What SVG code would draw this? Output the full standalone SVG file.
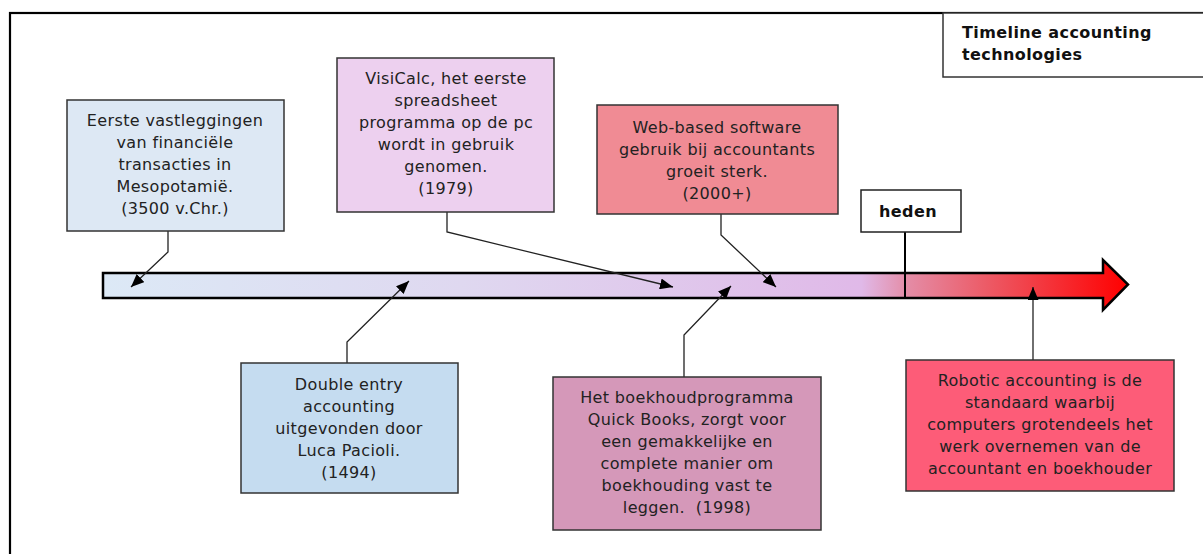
<svg xmlns="http://www.w3.org/2000/svg" width="1203" height="554" viewBox="0 0 1203 554">
<style>
.box{stroke:#333;stroke-width:1.5}
.t{font-family:"DejaVu Sans",Verdana,sans-serif;font-size:16px;letter-spacing:0.35px;fill:#222;text-anchor:middle}
.b{font-family:"DejaVu Sans",Verdana,sans-serif;font-size:16px;letter-spacing:0.4px;font-weight:bold;fill:#111}
.con{fill:none;stroke:#222;stroke-width:1.3}
</style>
<defs>
<linearGradient id="bar" gradientUnits="userSpaceOnUse" x1="103" y1="0" x2="1128" y2="0">
<stop offset="0" stop-color="#dce9f6"/>
<stop offset="0.35" stop-color="#dfd8f0"/>
<stop offset="0.74" stop-color="#e0b9e8"/>
<stop offset="0.785" stop-color="#e48ca6"/>
<stop offset="0.86" stop-color="#ec5c68"/>
<stop offset="1" stop-color="#ff0000"/>
</linearGradient>
<marker id="ah" viewBox="0 0 13 11" refX="13" refY="5.5" markerWidth="13" markerHeight="11" markerUnits="userSpaceOnUse" orient="auto">
<path d="M0,0 L13,5.5 L0,11 Z" fill="#000"/>
</marker>
</defs>
<rect x="0" y="0" width="1203" height="554" fill="#fff"/>
<rect x="10" y="13" width="1210" height="560" fill="#fff" stroke="#000" stroke-width="2.2"/>
<g id="title">
<rect x="943" y="13" width="270" height="64" fill="#fff" stroke="#333" stroke-width="1.5"/>
<text class="b" x="962" y="38">Timeline accounting</text>
<text class="b" x="962" y="60">technologies</text>
</g>
<g id="timeline">
<path d="M103,273 L1103,273 L1103,260 L1128,284.5 L1103,310 L1103,298 L103,298 Z" fill="url(#bar)" stroke="#000" stroke-width="2.5" stroke-linejoin="miter"/>
</g>
<g id="heden">
<line x1="905" y1="232" x2="905" y2="298" stroke="#000" stroke-width="2"/>
<rect x="861" y="190" width="100" height="42" fill="#fff" stroke="#222" stroke-width="1.5"/>
<text class="b" x="908" y="217" text-anchor="middle">heden</text>
</g>
<g id="connectors">
<path class="con" d="M168,231 L168,252 L131,287" marker-end="url(#ah)"/>
<path class="con" d="M447,212 L447,232 L673,287" marker-end="url(#ah)"/>
<path class="con" d="M721,214 L721,235 L776,287" marker-end="url(#ah)"/>
<path class="con" d="M347,363 L347,342 L409,281" marker-end="url(#ah)"/>
<path class="con" d="M684,377 L684,335 L731,286" marker-end="url(#ah)"/>
<path class="con" d="M1033,360 L1033,287" marker-end="url(#ah)"/>
</g>
<g id="n1">
<rect class="box" x="67" y="100" width="217" height="131" fill="#dde8f4"/>
<text class="t" x="175" y="126">Eerste vastleggingen</text>
<text class="t" x="175" y="148">van financiële</text>
<text class="t" x="175" y="170">transacties in</text>
<text class="t" x="175" y="192">Mesopotamië.</text>
<text class="t" x="175" y="214">(3500 v.Chr.)</text>
</g>
<g id="n2">
<rect class="box" x="337" y="58" width="217" height="154" fill="#edd0ef"/>
<text class="t" x="446" y="84">VisiCalc, het eerste</text>
<text class="t" x="446" y="106">spreadsheet</text>
<text class="t" x="446" y="128">programma op de pc</text>
<text class="t" x="446" y="150">wordt in gebruik</text>
<text class="t" x="446" y="172">genomen.</text>
<text class="t" x="446" y="194">(1979)</text>
</g>
<g id="n3">
<rect class="box" x="597" y="105" width="241" height="109" fill="#f08b94"/>
<text class="t" x="717" y="133">Web-based software</text>
<text class="t" x="717" y="155">gebruik bij accountants</text>
<text class="t" x="717" y="177">groeit sterk.</text>
<text class="t" x="717" y="199">(2000+)</text>
</g>
<g id="n4">
<rect class="box" x="241" y="363" width="217" height="130" fill="#c5dcf0"/>
<text class="t" x="349" y="390">Double entry</text>
<text class="t" x="349" y="412">accounting</text>
<text class="t" x="349" y="434">uitgevonden door</text>
<text class="t" x="349" y="456">Luca Pacioli.</text>
<text class="t" x="349" y="478">(1494)</text>
</g>
<g id="n5">
<rect class="box" x="553" y="377" width="268" height="153" fill="#d598b9"/>
<text class="t" x="687" y="403">Het boekhoudprogramma</text>
<text class="t" x="687" y="425">Quick Books, zorgt voor</text>
<text class="t" x="687" y="447">een gemakkelijke en</text>
<text class="t" x="687" y="469">complete manier om</text>
<text class="t" x="687" y="491">boekhouding vast te</text>
<text class="t" x="687" y="513" xml:space="preserve">leggen.  (1998)</text>
</g>
<g id="n6">
<rect class="box" x="906" y="360" width="268" height="131" fill="#fd5c78"/>
<text class="t" x="1040" y="386">Robotic accounting is de</text>
<text class="t" x="1040" y="408">standaard waarbij</text>
<text class="t" x="1040" y="430">computers grotendeels het</text>
<text class="t" x="1040" y="452">werk overnemen van de</text>
<text class="t" x="1040" y="474">accountant en boekhouder</text>
</g>
</svg>
